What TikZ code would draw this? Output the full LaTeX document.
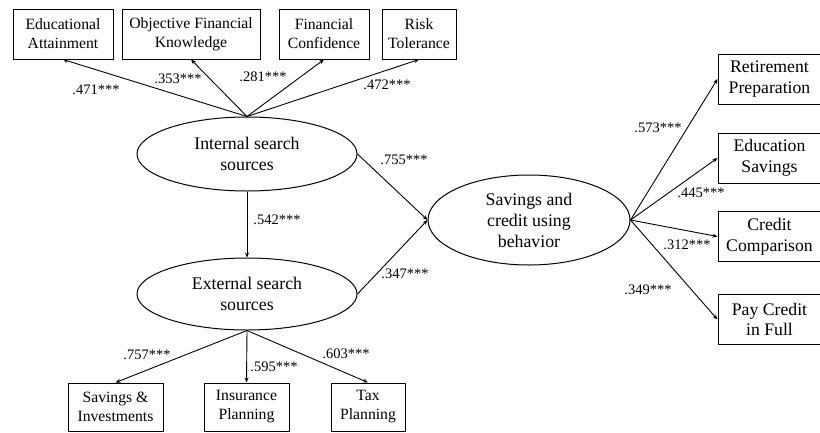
\documentclass[tikz,border=0pt]{standalone}
\usepackage{fontspec}
\setmainfont{Liberation Serif}
\usetikzlibrary{arrows.meta,shapes.geometric}
\begin{document}
\begin{tikzpicture}[x=1pt,y=-1pt,
  box/.style={draw,line width=1pt,rectangle,inner sep=0pt,minimum height=50pt,align=center,font=\fontsize{15.7}{19}\selectfont},
  rbox/.style={box,font=\fontsize{17.7}{20.7}\selectfont,minimum width=103pt},
  lat/.style={draw,line width=1pt,ellipse,inner sep=0pt,align=center,font=\fontsize{17.8}{21}\selectfont},
  lbl/.style={inner sep=0pt,font=\fontsize{14.5}{16}\selectfont},
  arr/.style={line width=0.9pt,-{Stealth[length=5pt,width=4pt]}}]
\useasboundingbox (0,0) rectangle (820,432);
\fill[white] (0,0) rectangle (820,432);

% latent variables
\node[lat,minimum width=220pt,minimum height=74pt] (int) at (247,154) {Internal search\\sources};
\node[lat,minimum width=220pt,minimum height=72pt] (ext) at (247,294) {External search\\sources};
\node[lat,minimum width=202pt,minimum height=90pt] (sav) at (529,220) {Savings and\\credit using\\behavior};

% top indicators
\node[box,minimum width=100pt] (edu) at (63,34) {Educational\\Attainment};
\node[box,minimum width=138pt] (obj) at (191,34) {Objective Financial\\Knowledge};
\node[box,minimum width=90pt] (conf) at (324,34) {Financial\\Confidence};
\node[box,minimum width=74pt] (risk) at (419,34) {Risk\\Tolerance};

% bottom indicators
\node[box,minimum width=95pt,minimum height=48pt] (sinv) at (115.5,407) {Savings \&\\Investments};
\node[box,minimum width=85pt,minimum height=48pt] (ins) at (246.5,407) {Insurance\\Planning};
\node[box,minimum width=74pt,minimum height=48pt] (tax) at (368,407) {Tax\\Planning};

% right indicators
\node[rbox] (ret) at (769.5,79) {Retirement\\Preparation};
\node[rbox] (eds) at (769.5,158) {Education\\Savings};
\node[rbox] (cc) at (769.5,236.5) {Credit\\Comparison};
\node[rbox] (pay) at (769.5,319.5) {Pay Credit\\in Full};

% connectors
\draw[arr] (int.north) -- (edu.south);
\draw[arr] (int.north) -- (obj.south);
\draw[arr] (int.north) -- (conf.south);
\draw[arr] (int.north) -- (risk.south);
\draw[arr] (int.south) -- (ext.north);
\draw[arr] (int.east) -- (sav.west);
\draw[arr] (ext.east) -- (sav.west);
\draw[arr] (ext.south) -- (sinv.north);
\draw[arr] (ext.south) -- (ins.north);
\draw[arr] (ext.south) -- (tax.north);
\draw[arr] (sav.east) -- (ret.west);
\draw[arr] (sav.east) -- (eds.west);
\draw[arr] (sav.east) -- (cc.west);
\draw[arr] (sav.east) -- (pay.west);

% labels
\node[lbl] (l1) at (96,90) {.471***};
\node[lbl] (l2) at (178,79) {.353***};
\node[lbl] (l3) at (263,77) {.281***};
\node[lbl] (l4) at (387,85) {.472***};
\node[lbl] (l5) at (404,160) {.755***};
\node[lbl] (l6) at (277,220) {.542***};
\node[lbl] (l7) at (405,274) {.347***};
\node[lbl] (l8) at (147,355) {.757***};
\node[lbl] (l9) at (274,367) {.595***};
\node[lbl] (l10) at (346,354) {.603***};
\node[lbl] (l11) at (658,128) {.573***};
\node[lbl] (l12) at (701,193) {.445***};
\node[lbl] (l13) at (687,245) {.312***};
\node[lbl] (l14) at (648,290) {.349***};
\end{tikzpicture}
\end{document}
